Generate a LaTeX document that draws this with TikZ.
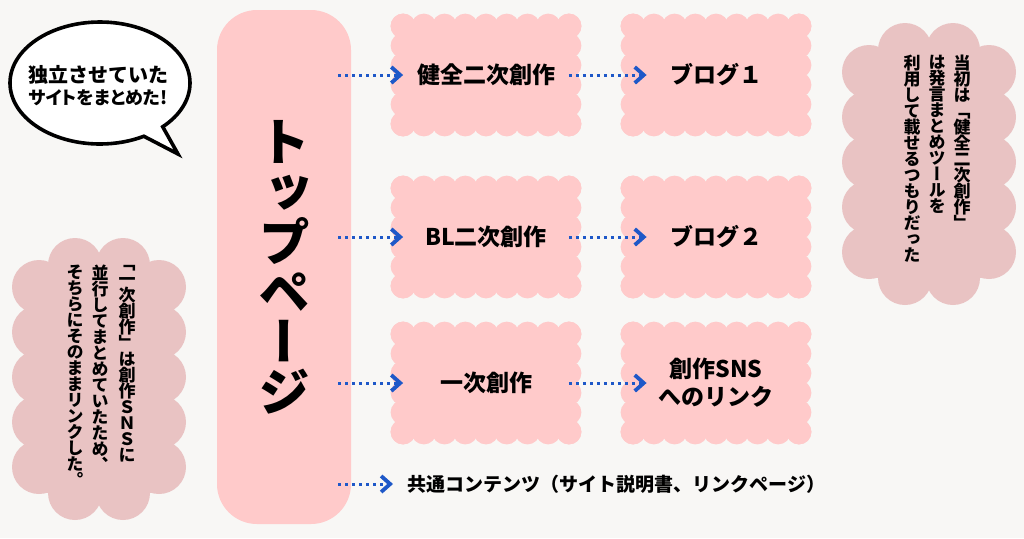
\documentclass[tikz,border=0pt]{standalone}
\usepackage{fontspec}
\usepackage{graphicx}
\usetikzlibrary{arrows.meta,calc,positioning,shapes.callouts}
\newfontfamily\jp{Noto Sans CJK JP}
\newfontfamily\jpp{Noto Sans CJK JP}[RawFeature=+palt]
\newfontfamily\jpv{Noto Sans CJK JP}[RawFeature=+vert]
\definecolor{bg}{HTML}{F8F7F5}
\definecolor{pagepink}{HTML}{FFCACA}
\definecolor{cloudpink}{HTML}{E9C3C3}
\definecolor{linkblue}{HTML}{1E58C8}

% one character per line, for vertical text
\ExplSyntaxOn
\NewDocumentCommand \vtext { m }
  { \vbox:n { \lineskiplimit=-\maxdimen
      \tl_map_inline:nn {#1} { \hbox_to_wd:nn {1em} { \hss ##1 \hss } } } }
\ExplSyntaxOff

% scalloped edge round a box node
\newcommand\bumps[1]{%
  \foreach \t in {0,0.125,...,1} {
    \fill[pagepink] ($(#1.north west)!\t!(#1.north east)$) circle[radius=6.25pt];
    \fill[pagepink] ($(#1.south west)!\t!(#1.south east)$) circle[radius=6.25pt];}
  \foreach \t in {0,0.2,...,1} {
    \fill[pagepink] ($(#1.north west)!\t!(#1.south west)$) circle[radius=6.25pt];
    \fill[pagepink] ($(#1.north east)!\t!(#1.south east)$) circle[radius=6.25pt];}}

% cloud, from its top left corner
\newcommand\cloud[2]{%
  \begin{scope}[shift={(#1,#2)}, cloudpink]
    \fill (29,27) rectangle (149,255);
    \foreach \y in {49,94,139,184,229} {
      \fill (29,\y) circle[radius=13.5pt];
      \fill (149,\y) circle[radius=13.5pt];}
    \foreach \x in {65,113} {
      \fill (\x,27) circle[radius=13.5pt];
      \fill (\x,255) circle[radius=13.5pt];}
  \end{scope}}

\begin{document}
\begin{tikzpicture}[x=0.5pt,y=-0.5pt,
  link/.style={linkblue, line width=1.5pt, dash pattern=on 1.5pt off 2pt,
    -{Straight Barb[length=4.5pt,width=8pt,line width=1.9pt]}},
  cookie/.style={fill=pagepink, inner sep=0pt, minimum width=82.5pt,
    minimum height=48.5pt, align=center,
    font=\jp\bfseries\fontsize{11.5pt}{14pt}\selectfont},
  vcol/.style={anchor=north, inner sep=0pt,
    font=\jpv\bfseries\fontsize{8.5pt}{8pt}\selectfont}]
\fill[bg] (0,0) rectangle (1024,538);
\useasboundingbox (0,0) rectangle (1024,538);

% speech bubble
\node[ellipse callout, draw=black, line width=1.8pt, fill=white,
  minimum width=90pt, minimum height=61pt,
  callout absolute pointer={(178,154)}] (bubble) at (100,83) {};
\node[anchor=west, align=left, inner sep=0pt,
  font=\jp\bfseries\fontsize{10pt}{11pt}\selectfont] (bubbletext) at (28,86)
  {独立させていた\\{\jpp\fontsize{9pt}{11pt}\selectfont サイトをまとめた!}};

% notes
\cloud{10}{238}
\cloud{840}{23}
\node[vcol] (leftc1) at (127,265) {\vtext{「一次創作」は創作ＳＮＳに}};
\node[vcol] (leftc2) at (100,265) {\vtext{並行してまとめていたため、}};
\node[vcol] (leftc3) at (75,265) {\vtext{そちらにそのままリンクした。}};
\node[vcol] (rightc1) at (962,55) {\vtext{当初は「健全二次創作」}};
\node[vcol] (rightc2) at (937,55) {\vtext{は発言まとめツールを}};
\node[vcol] (rightc3) at (912,55) {\vtext{利用して載せるつもりだった}};

% top page
\node[fill=pagepink, rounded corners=20pt, minimum width=67pt,
  minimum height=257pt, inner sep=0pt,
  font=\jpv\bfseries\fontsize{26pt}{25pt}\selectfont] (top) at (284,267)
  {\vtext{トップページ}};

% pages
\node[cookie] (kenzen) at (486,75) {健全二次創作};
\node[cookie] (blog1) at (716,75) {ブログ１};
\node[cookie] (bl) at (486,237) {BL二次創作};
\node[cookie] (blog2) at (716,237) {ブログ２};
\node[cookie] (ichiji) at (486,383) {一次創作};
\node[cookie] (sns) at (716,383) {創作SNS\\へのリンク};
\foreach \n in {kenzen,blog1,bl,blog2,ichiji,sns} {\bumps{\n}}
\node[anchor=west, inner sep=0pt,
  font=\jp\bfseries\fontsize{9.5pt}{12pt}\selectfont] (common) at (407,484)
  {共通コンテンツ（サイト説明書、リンクページ）};

% links
\draw[link, shorten <=-6.5pt] (top.east |- kenzen) -- (kenzen.west);
\draw[link, shorten <=-6.5pt] (top.east |- bl) -- (bl.west);
\draw[link, shorten <=-6.5pt] (top.east |- ichiji) -- (ichiji.west);
\draw[link, shorten <=-6.5pt, shorten >=7pt] (top.east |- common) -- (common.west);
\draw[link, shorten >=-6.75pt] (kenzen.east) -- (blog1.west);
\draw[link, shorten >=-6.75pt] (bl.east) -- (blog2.west);
\draw[link, shorten >=-6.75pt] (ichiji.east) -- (sns.west);
\end{tikzpicture}
\end{document}
